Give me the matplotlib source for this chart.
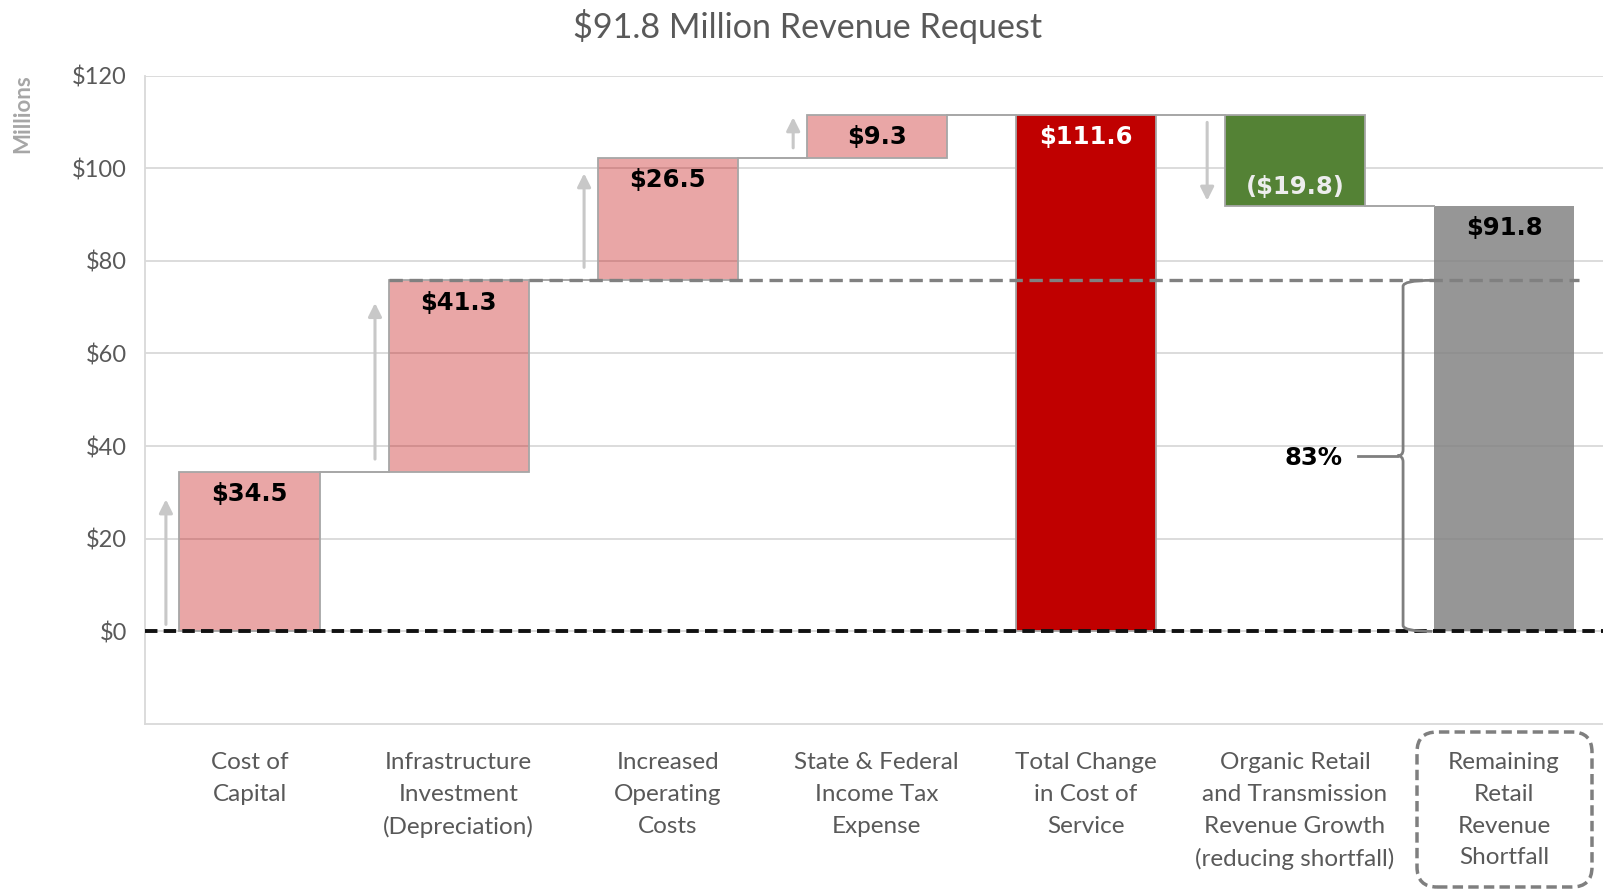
import matplotlib
matplotlib.use("Agg")
import matplotlib.pyplot as plt
from matplotlib.patches import FancyBboxPatch, PathPatch
from matplotlib.path import Path
from matplotlib.transforms import IdentityTransform
import numpy as np

# ---------------- data ----------------
categories = [
    "Cost of\nCapital",
    "Infrastructure\nInvestment\n(Depreciation)",
    "Increased\nOperating\nCosts",
    "State & Federal\nIncome Tax\nExpense",
    "Total Change\nin Cost of\nService",
    "Organic Retail\nand Transmission\nRevenue Growth\n(reducing shortfall)",
    "Remaining\nRetail\nRevenue\nShortfall",
]
cost_steps = [34.5, 41.3, 26.5, 9.3]
total_change = 111.6
organic_growth = -19.8
remaining = 91.8
value_labels = ["$34.5", "$41.3", "$26.5", "$9.3", "$111.6", "($19.8)", "$91.8"]
share_label = "83%"
title = "$91.8 Million Revenue Request"
y_ticks = [0, 20, 40, 60, 80, 100, 120]
y_tick_labels = ["$0", "$20", "$40", "$60", "$80", "$100", "$120"]
y_axis_label = "Millions"

# ---------------- derived ----------------
cum = np.cumsum(cost_steps)
bottoms = list(np.concatenate([[0], cum[:-1]])) + [0, total_change + organic_growth, 0]
heights = list(cost_steps) + [total_change, -organic_growth, remaining]
tops = [b + h for b, h in zip(bottoms, heights)]

PINK = "#C00000"
colors = [PINK] * 4 + ["#C00000", "#548235", "#7F7F7F"]
alphas = [0.35] * 4 + [1.0, 1.0, 0.82]
edges = ["#A6A6A6"] * 4 + ["#A6A6A6", "#A6A6A6", "none"]
TXT = "#595959"
SANS = ["Lato", "DejaVu Sans"]
BOLD = ["DejaVu Sans"]

W, H = 1603, 894
fig = plt.figure(figsize=(W / 100, H / 100), dpi=100)
fig.patch.set_facecolor("white")

x0, x1 = 145.0, 1608.6
ytop, ybot = 75.6, 724.0
ax = fig.add_axes([x0 / W, 1 - ybot / H, (x1 - x0) / W, (ybot - ytop) / H])
ax.set_xlim(-0.5, 6.5)
ax.set_ylim(-20, 120)

bw = 0.67
x = np.arange(len(categories))

# gridlines
for yt in y_ticks:
    ax.axhline(yt, color="#D9D9D9", lw=1.3, zorder=0)

# bars
for i in range(len(x)):
    ax.bar(x[i], heights[i], bottom=bottoms[i], width=bw, color=colors[i],
           alpha=alphas[i], zorder=2, linewidth=0)
    if edges[i] != "none":
        ax.bar(x[i], heights[i], bottom=bottoms[i], width=bw, facecolor="none",
               edgecolor=edges[i], linewidth=1.3, zorder=3)

# connectors
levels = [tops[0], tops[1], tops[2], tops[3], tops[4], bottoms[5]]
for i, lv in enumerate(levels):
    ax.plot([x[i] + bw / 2, x[i + 1] - bw / 2], [lv, lv], color="#A6A6A6", lw=1.4, zorder=3)

# grey dashed reference line at level after infrastructure
ax.plot([x[1] - bw / 2, x[6] + 0.36], [cum[1], cum[1]], color="#808080", lw=2.4,
        ls=(0, (4, 2)), zorder=5)

# black dashed baseline
ax.axhline(0, color="#111111", lw=2.8, ls=(0, (3.2, 1.6)), zorder=6)

# arrows
arrow_kw = dict(arrowstyle="-|>,head_length=0.8,head_width=0.4", color="#C8C8C8", lw=2.2,
                shrinkA=0, shrinkB=0)
arrow_specs = [(0, bottoms[0] + 1.5, tops[0] - 6.0),
               (1, bottoms[1] + 2.7, tops[1] - 4.9),
               (2, bottoms[2] + 2.8, tops[2] - 3.4),
               (3, bottoms[3] + 2.1, tops[3] - 0.6)]
for i, ys, ye in arrow_specs:
    ax.annotate("", xy=(x[i] - 0.40, ye), xytext=(x[i] - 0.40, ys), arrowprops=arrow_kw, zorder=4)
ax.annotate("", xy=(x[5] - 0.42, bottoms[5] + 1.2), xytext=(x[5] - 0.42, tops[5] - 1.7),
            arrowprops=arrow_kw, zorder=4)

# value labels
lab_colors = ["black"] * 4 + ["white", "#EDEDED", "black"]
LFS = 17.5
for i in range(len(x)):
    if i == 5:
        ax.annotate(value_labels[i], (x[i], bottoms[i]), xytext=(0, 14), textcoords="offset points",
                    ha="center", va="center", fontsize=LFS, fontweight="bold",
                    color=lab_colors[i], family=BOLD, zorder=7)
    else:
        ax.annotate(value_labels[i], (x[i], tops[i]), xytext=(0, -16), textcoords="offset points",
                    ha="center", va="center", fontsize=LFS, fontweight="bold",
                    color=lab_colors[i], family=BOLD, zorder=7)

# brace showing share of shortfall
yb0, yb1 = 0.0, cum[1]
ym = (yb0 + yb1) / 2
xv, xe, xt = 5.517, 5.657, 5.490
verts = [(xe, yb1), (xv, yb1), (xv, yb1 - 1.3),
         (xv, ym + 1.3), (xv, ym), (xt, ym),
         (xv, ym), (xv, ym - 1.3),
         (xv, yb0 + 1.3), (xv, yb0), (xe, yb0)]
codes = [Path.MOVETO, Path.CURVE3, Path.CURVE3,
         Path.LINETO, Path.CURVE3, Path.CURVE3,
         Path.CURVE3, Path.CURVE3,
         Path.LINETO, Path.CURVE3, Path.CURVE3]
ax.add_patch(PathPatch(Path(verts, codes), facecolor="none", edgecolor="#7F7F7F", lw=2, zorder=6))
ax.plot([5.302, xt], [ym, ym], color="#7F7F7F", lw=2, zorder=6)
ax.annotate(share_label, (5.087, ym), xytext=(0, -1.5), textcoords="offset points",
            ha="center", va="center", fontsize=LFS, fontweight="bold",
            color="black", family=BOLD, zorder=7)

# axes styling
for s in ["top", "right"]:
    ax.spines[s].set_visible(False)
for s in ["left", "bottom"]:
    ax.spines[s].set_color("#D9D9D9")
    ax.spines[s].set_linewidth(1.3)
ax.set_yticks(y_ticks)
ax.set_yticklabels(y_tick_labels, fontsize=17.0, color=TXT, family=SANS)
ax.set_xticks(x)
ax.set_xticklabels(categories, fontsize=17.5, color=TXT, family=SANS, linespacing=1.62)
ax.tick_params(axis="y", length=0, pad=13)
ax.tick_params(axis="x", length=0, pad=20.5)

fig.text(23 / W, 1 - 114 / H, y_axis_label, rotation=90, ha="center", va="center",
         fontsize=16, fontweight="bold", color="#A6A6A6", family=SANS)
fig.text(808 / W, 1 - 27 / H, title, ha="center", va="center", fontsize=24.6, color=TXT, family=SANS)

# dashed rounded box around last category label
box = FancyBboxPatch((1417, H - 887), 1592 - 1417, 887 - 732,
                     boxstyle="round,pad=0,rounding_size=20", transform=IdentityTransform(),
                     facecolor="none", edgecolor="#7F7F7F", lw=2.5, ls=(0, (3, 1.5)))
fig.patches.append(box)

fig.savefig("out.png", dpi=100)
